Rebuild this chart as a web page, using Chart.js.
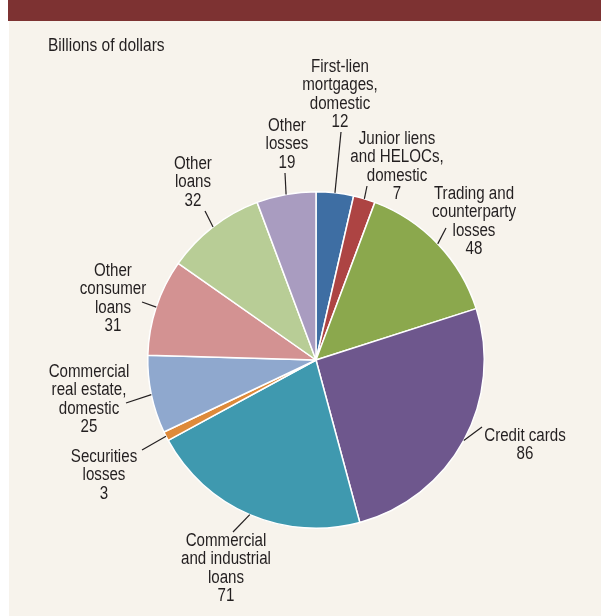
<!DOCTYPE html>
<html>
<head>
<meta charset="utf-8">
<script src="https://cdn.jsdelivr.net/npm/chart.js@4.4.1/dist/chart.umd.min.js"></script>
<style>
  html, body { margin: 0; padding: 0; background: #ffffff; }
  #wrap { position: relative; width: 601px; height: 616px; }
</style>
</head>
<body>
<div id="wrap"><canvas id="c" width="601" height="616"></canvas></div>
<script>
// Loss categories, clockwise from 12 o'clock
const categories = [
  'First-lien mortgages, domestic',
  'Junior liens and HELOCs, domestic',
  'Trading and counterparty losses',
  'Credit cards',
  'Commercial and industrial loans',
  'Securities losses',
  'Commercial real estate, domestic',
  'Other consumer loans',
  'Other loans',
  'Other losses'
];
// Billions of dollars
const losses = [12, 7, 48, 86, 71, 3, 25, 31, 32, 19];
const sliceColors = [
  '#3e6ea3', '#ad4443', '#8ba84d', '#6e578d', '#3f99af',
  '#de8a3a', '#8fa8ce', '#d39292', '#b8cd96', '#a99cc0'
];
// Label text lines (value is appended from losses)
const labelLines = [
  ['First-lien', 'mortgages,', 'domestic'],
  ['Junior liens', 'and HELOCs,', 'domestic'],
  ['Trading and', 'counterparty', 'losses'],
  ['Credit cards'],
  ['Commercial', 'and industrial', 'loans'],
  ['Securities', 'losses'],
  ['Commercial', 'real estate,', 'domestic'],
  ['Other', 'consumer', 'loans'],
  ['Other', 'loans'],
  ['Other', 'losses']
];
// Label placement relative to pie centre: leader end (lx, ly) and text block centre x / first-line y
const labelLayout = [
  { lx: 25,  ly: -228, tx: 24,   ty: -293 },
  { lx: 51,  ly: -174, tx: 81,   ty: -221 },
  { lx: 130, ly: -132, tx: 158,  ty: -166 },
  { lx: 166, ly: 67,   tx: 209,  ty: 76 },
  { lx: -83, ly: 172,  tx: -90,  ty: 181 },
  { lx: -174, ly: 90,  tx: -212, ty: 97 },
  { lx: -190, ly: 43,  tx: -227, ty: 12 },
  { lx: -174, ly: -58, tx: -203, ty: -89 },
  { lx: -111, ly: -149, tx: -123, ty: -196 },
  { lx: -31, ly: -187, tx: -29,  ty: -234 }
];

const FONT = '"Liberation Sans", Arial, sans-serif';
const NARROW = 0.84;   // horizontal squeeze for a condensed look
const LINE_H = 18.5;

function narrowText(ctx, text, x, y) {
  ctx.save();
  ctx.translate(x, y);
  ctx.scale(NARROW, 1);
  ctx.fillText(text, 0, 0);
  ctx.restore();
}

const pagePlugin = {
  id: 'page',
  beforeDraw(chart) {
    const ctx = chart.ctx;
    ctx.save();
    ctx.fillStyle = '#ffffff';
    ctx.fillRect(0, 0, chart.width, chart.height);
    ctx.fillStyle = '#f7f3ec';
    ctx.fillRect(9, 20, chart.width - 9, chart.height - 20);
    ctx.fillStyle = '#7d3232';
    ctx.fillRect(8, 0, chart.width - 8, 21);
    ctx.fillStyle = '#231f20';
    ctx.font = '18.5px ' + FONT;
    ctx.textBaseline = 'middle';
    ctx.textAlign = 'left';
    narrowText(ctx, 'Billions of dollars', 48, 46);
    ctx.restore();
  }
};

const labelPlugin = {
  id: 'sliceLabels',
  afterDatasetsDraw(chart) {
    const ctx = chart.ctx;
    const arcs = chart.getDatasetMeta(0).data;
    ctx.save();
    ctx.strokeStyle = '#231f20';
    ctx.lineWidth = 1.2;
    ctx.fillStyle = '#231f20';
    ctx.font = '18px ' + FONT;
    ctx.textAlign = 'center';
    ctx.textBaseline = 'middle';
    arcs.forEach((arc, i) => {
      const p = arc.getProps(['x', 'y', 'startAngle', 'endAngle', 'outerRadius'], true);
      const mid = (p.startAngle + p.endAngle) / 2;
      const sx = p.x + Math.cos(mid) * p.outerRadius;
      const sy = p.y + Math.sin(mid) * p.outerRadius;
      const L = labelLayout[i];
      ctx.beginPath();
      ctx.moveTo(sx, sy);
      ctx.lineTo(p.x + L.lx, p.y + L.ly);
      ctx.stroke();
      const lines = labelLines[i].concat([String(losses[i])]);
      lines.forEach((t, k) => {
        narrowText(ctx, t, p.x + L.tx, p.y + L.ty + k * LINE_H);
      });
    });
    ctx.restore();
  }
};

new Chart(document.getElementById('c'), {
  type: 'pie',
  data: {
    labels: categories,
    datasets: [{
      data: losses,
      backgroundColor: sliceColors,
      borderColor: '#ffffff',
      borderWidth: 1.5
    }]
  },
  options: {
    responsive: false,
    animation: false,
    events: [],
    layout: { padding: { left: 147, right: 116, top: 191, bottom: 87 } },
    plugins: {
      legend: { display: false },
      tooltip: { enabled: false }
    }
  },
  plugins: [pagePlugin, labelPlugin]
});
</script>
</body>
</html>
